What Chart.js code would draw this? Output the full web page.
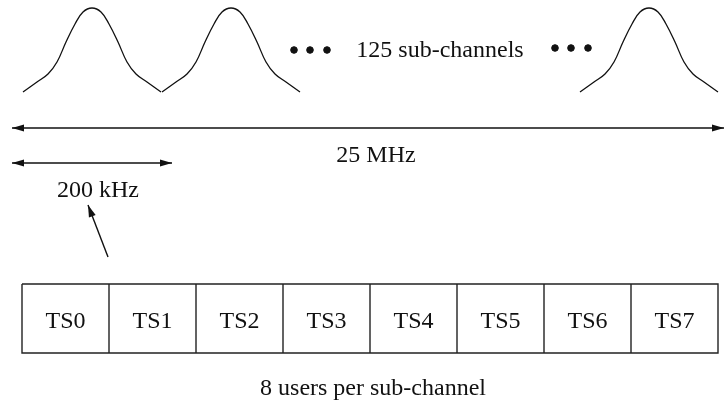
<!DOCTYPE html>
<html>
<head>
<meta charset="utf-8">
<script src="https://cdn.jsdelivr.net/npm/chart.js@4.4.1/dist/chart.umd.min.js"></script>
<style>
  html, body { margin: 0; padding: 0; background: #fff; }
  #wrap { width: 726px; height: 404px; }
</style>
</head>
<body>
<div id="wrap"><canvas id="diagram" width="726" height="404"></canvas></div>
<script>
// diagram coordinates (x right, y down)
const pulseCentres = [92, 231, 649];
const pulseOffsets = [-69, -55, -44, -35, -26, -17, -9, 0, 9, 17, 26, 35, 44, 55, 69];
const pulseHeights = [0, 10, 18, 30, 50, 68, 80, 84, 80, 68, 50, 30, 18, 10, 0];
const pulseBase = 92;

const dotsX = [294, 310, 327, 555, 571, 588];
const dotsY = [50, 50, 50, 48, 48, 48];

const slotLabels = ['TS0', 'TS1', 'TS2', 'TS3', 'TS4', 'TS5', 'TS6', 'TS7'];
const slotLeft = 22;
const slotWidth = 87;
const slotTop = 284;
const slotBottom = 353;

// arrows: [x1, y1, x2, y2, heads at start?, heads at end?]
const arrows = [
    [12, 128, 724, 128, true, true],
    [12, 163, 172, 163, true, true],
    [108, 257, 88, 205, false, true]
];

const texts = [
    ['125 sub-channels', 440, 57],
    ['25 MHz', 376, 162],
    ['200 kHz', 98, 197],
    ['8 users per sub-channel', 373, 395]
];

const ink = '#111';

// build datasets
const datasets = [];
pulseCentres.forEach(c => {
    datasets.push({
        data: pulseOffsets.map((o, i) => ({x: c + o, y: pulseBase - pulseHeights[i]})),
        borderColor: ink,
        borderWidth: 1.3,
        pointRadius: 0,
        showLine: true,
        tension: 0.4,
        clip: false
    });
});

datasets.push({
    data: dotsX.map((x, i) => ({x: x, y: dotsY[i]})),
    backgroundColor: ink,
    borderColor: ink,
    pointRadius: 3.3,
    showLine: false,
    clip: false
});

arrows.forEach(a => {
    datasets.push({
        data: [{x: a[0], y: a[1]}, {x: a[2], y: a[3]}],
        borderColor: ink,
        borderWidth: 1.4,
        pointRadius: 0,
        showLine: true,
        clip: false
    });
});

// slot row outline and dividers
const slotRight = slotLeft + slotWidth * slotLabels.length;
datasets.push({
    data: [
        {x: slotLeft, y: slotTop}, {x: slotRight, y: slotTop},
        {x: slotRight, y: slotBottom}, {x: slotLeft, y: slotBottom},
        {x: slotLeft, y: slotTop}
    ],
    borderColor: '#222',
    borderWidth: 1.4,
    pointRadius: 0,
    showLine: true,
    tension: 0,
    clip: false
});
const dividerPts = [];
for (let i = 1; i < slotLabels.length; i++) {
    const x = slotLeft + slotWidth * i;
    dividerPts.push({x: x, y: slotTop}, {x: x, y: slotBottom}, {x: x, y: null});
}
datasets.push({
    data: dividerPts,
    borderColor: '#222',
    borderWidth: 1.4,
    pointRadius: 0,
    showLine: true,
    spanGaps: false,
    clip: false
});

const labelsPlugin = {
    id: 'labels',
    afterDatasetsDraw(chart) {
        const c = chart.ctx;
        const xs = chart.scales.x, ys = chart.scales.y;
        c.save();
        c.fillStyle = ink;
        // arrowheads
        arrows.forEach(a => {
            const p1 = [xs.getPixelForValue(a[0]), ys.getPixelForValue(a[1])];
            const p2 = [xs.getPixelForValue(a[2]), ys.getPixelForValue(a[3])];
            const head = (tip, from) => {
                const ang = Math.atan2(tip[1] - from[1], tip[0] - from[0]);
                const len = 12, half = 3.6;
                c.beginPath();
                c.moveTo(tip[0], tip[1]);
                c.lineTo(tip[0] - len * Math.cos(ang) + half * Math.sin(ang),
                         tip[1] - len * Math.sin(ang) - half * Math.cos(ang));
                c.lineTo(tip[0] - len * Math.cos(ang) - half * Math.sin(ang),
                         tip[1] - len * Math.sin(ang) + half * Math.cos(ang));
                c.closePath();
                c.fill();
            };
            if (a[4]) head(p1, p2);
            if (a[5]) head(p2, p1);
        });
        c.font = '24px "Liberation Serif", "Times New Roman", serif';
        c.textAlign = 'center';
        c.textBaseline = 'alphabetic';
        texts.forEach(t => {
            c.fillText(t[0], xs.getPixelForValue(t[1]), ys.getPixelForValue(t[2]));
        });
        slotLabels.forEach((s, i) => {
            const cx = slotLeft + slotWidth * (i + 0.5);
            c.fillText(s, xs.getPixelForValue(cx), ys.getPixelForValue(328));
        });
        c.restore();
    }
};

new Chart(document.getElementById('diagram'), {
    type: 'scatter',
    data: {datasets: datasets},
    options: {
        responsive: false,
        animation: false,
        events: [],
        layout: {padding: 0, autoPadding: false},
        scales: {
            x: {type: 'linear', min: 0, max: 726, display: false},
            y: {type: 'linear', min: 0, max: 404, reverse: true, display: false}
        },
        plugins: {
            legend: {display: false},
            tooltip: {enabled: false}
        }
    },
    plugins: [labelsPlugin]
});
</script>
</body>
</html>
